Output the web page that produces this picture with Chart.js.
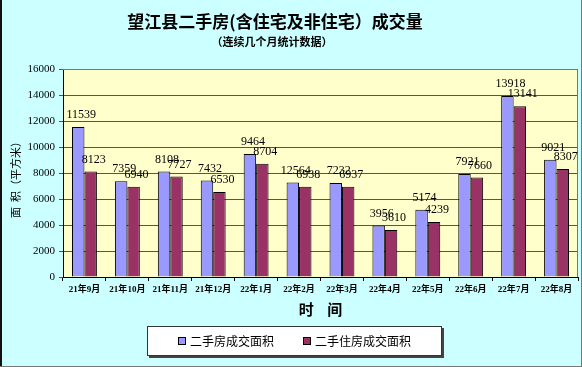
<!DOCTYPE html>
<html>
<head>
<meta charset="utf-8">
<script src="https://cdn.jsdelivr.net/npm/chart.js@4"></script>
<style>
html, body { margin: 0; padding: 0; background: #ccffff; }
</style>
</head>
<body>
<canvas id="c" width="582" height="367"></canvas>
<script>
// 数据
const months = ['21年9月', '21年10月', '21年11月', '21年12月', '22年1月', '22年2月',
  '22年3月', '22年4月', '22年5月', '22年6月', '22年7月', '22年8月'];
const totalArea = [11539, 7359, 8108, 7432, 9464, 7264, 7232, 3956, 5174, 7921, 13918, 9021];
const houseArea = [8123, 6940, 7727, 6530, 8704, 6938, 6937, 3610, 4239, 7660, 13141, 8307];
const yTicks = [0, 2000, 4000, 6000, 8000, 10000, 12000, 14000, 16000];

// 原图 22年2月 的标注写的是 12564
const totalText = totalArea.map(String);
totalText[5] = '12564';
const houseText = houseArea.map(String);

const serif = "'Liberation Serif', 'Noto Sans CJK SC', serif";
const cjk = "'Noto Sans CJK SC', sans-serif";

const decorPlugin = {
  id: 'decor',
  beforeDraw(chart) {
    const { ctx, chartArea: a } = chart;
    ctx.save();
    ctx.fillStyle = '#ccffff';
    ctx.fillRect(0, 0, chart.width, chart.height);
    ctx.fillStyle = '#ffffcc';
    ctx.fillRect(a.left, a.top, a.right - a.left, a.bottom - a.top);
    ctx.restore();
  },
  afterDraw(chart) {
    const { ctx, chartArea: a } = chart;
    ctx.save();
    // 外框
    ctx.fillStyle = '#111';
    ctx.fillRect(0, 0, 2, chart.height);
    ctx.fillStyle = '#777';
    ctx.fillRect(chart.width - 1, 0, 1, chart.height);
    ctx.fillRect(0, chart.height - 1, chart.width, 1);
    // 绘图区上、右边框
    ctx.strokeStyle = '#777';
    ctx.lineWidth = 1;
    ctx.beginPath();
    ctx.moveTo(a.left, a.top + 0.5);
    ctx.lineTo(a.right - 0.5, a.top + 0.5);
    ctx.lineTo(a.right - 0.5, a.bottom);
    ctx.stroke();

    // 标题
    ctx.fillStyle = '#000';
    ctx.textAlign = 'center';
    ctx.textBaseline = 'middle';
    ctx.font = 'bold 17px ' + cjk;
    ctx.fillText('望江县二手房(含住宅及非住宅）成交量', 275, 22);
    ctx.font = 'bold 11px ' + cjk;
    ctx.fillText('（连续几个月统计数据）', 272, 42);

    // 坐标轴标题
    ctx.font = 'bold 15px ' + cjk;
    ctx.fillText('时    间', (a.left + a.right) / 2, 309);
    ctx.save();
    ctx.translate(16, 177);
    ctx.rotate(-Math.PI / 2);
    ctx.font = '11px ' + cjk;
    ctx.fillText('面  积（平方米）', 0, 0);
    ctx.restore();

    // 数据标注
    ctx.font = '12px ' + serif;
    ctx.textBaseline = 'bottom';
    const texts = [totalText, houseText];
    chart.data.datasets.forEach((ds, i) => {
      chart.getDatasetMeta(i).data.forEach((bar, j) => {
        ctx.fillText(texts[i][j], bar.x + 3, bar.y - 6);
      });
    });

    // 图例
    const lx = 147, ly = 326, lw = 295, lh = 30;
    ctx.fillStyle = '#444';
    ctx.fillRect(lx + 2, ly + 2, lw, lh);
    ctx.fillStyle = '#fff';
    ctx.fillRect(lx, ly, lw, lh);
    ctx.strokeStyle = '#333';
    ctx.strokeRect(lx + 0.5, ly + 0.5, lw - 1, lh - 1);
    ctx.font = '12px ' + cjk;
    ctx.textAlign = 'left';
    ctx.textBaseline = 'middle';
    const itemX = [178, 303];
    chart.data.datasets.forEach((ds, i) => {
      ctx.fillStyle = ds.backgroundColor;
      ctx.fillRect(itemX[i], ly + 11, 8, 8);
      ctx.strokeStyle = '#000';
      ctx.strokeRect(itemX[i] + 0.5, ly + 11.5, 7, 7);
      ctx.fillStyle = '#000';
      ctx.fillText(ds.label, itemX[i] + 12, ly + 15);
    });
    ctx.restore();
  }
};

new Chart(document.getElementById('c'), {
  type: 'bar',
  data: {
    labels: months,
    datasets: [
      { label: '二手房成交面积', data: totalArea, backgroundColor: '#9999ff', borderColor: '#000', borderWidth: 1 },
      { label: '二手住房成交面积', data: houseArea, backgroundColor: '#993366', borderColor: '#000', borderWidth: 1 }
    ]
  },
  options: {
    responsive: false,
    animation: false,
    layout: { padding: { top: 69, left: 0, right: 4, bottom: 0 } },
    datasets: { bar: { categoryPercentage: 0.58, barPercentage: 1 } },
    plugins: { legend: { display: false }, tooltip: { enabled: false } },
    scales: {
      x: {
        afterFit(s) { s.height = 90; },
        grid: { drawOnChartArea: false, color: '#000', tickLength: 4, offset: true },
        border: { color: '#000', width: 1 },
        ticks: { color: '#000', font: { size: 9, weight: 'bold', family: serif }, padding: 3, maxRotation: 0, autoSkip: false }
      },
      y: {
        min: 0,
        max: 16000,
        afterFit(s) { s.width = 63; },
        afterBuildTicks(s) { s.ticks = yTicks.map(v => ({ value: v })); },
        grid: { color: '#555', tickLength: 4 },
        border: { color: '#000', width: 1 },
        ticks: { color: '#000', font: { size: 11, family: serif }, padding: 4, callback: v => String(v) }
      }
    }
  },
  plugins: [decorPlugin]
});
</script>
</body>
</html>
